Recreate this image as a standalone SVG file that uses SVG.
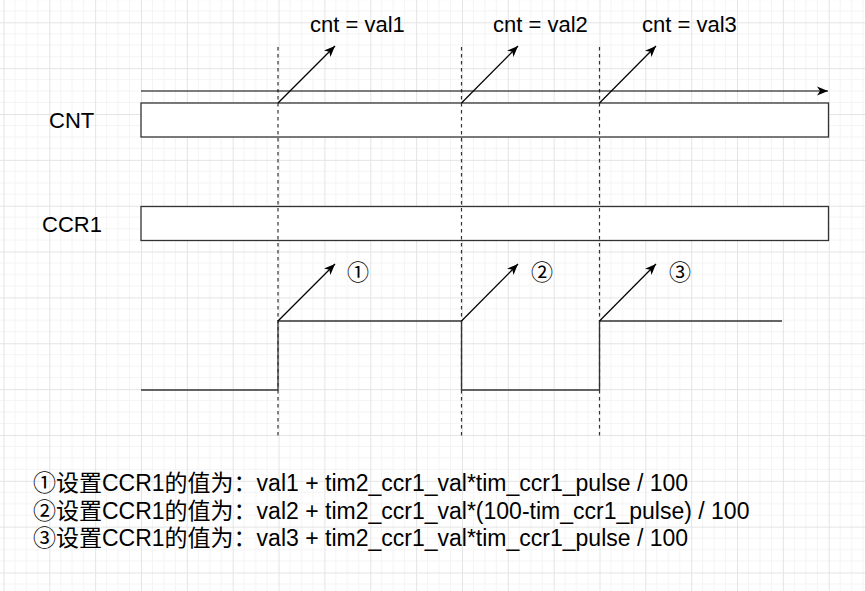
<svg xmlns="http://www.w3.org/2000/svg" width="865" height="591" viewBox="0 0 865 591">
<defs>
<pattern id="grid" patternUnits="userSpaceOnUse" x="3.45" y="22.3" width="45.85" height="45.85">
<path d="M11.46 0V45.85M22.93 0V45.85M34.39 0V45.85M0 11.46H45.85M0 22.93H45.85M0 34.39H45.85" stroke="#f4f4f4" stroke-width="1" fill="none"/>
<path d="M0.5 0V45.85M0 0.5H45.85" stroke="#e4e4e4" stroke-width="1" fill="none"/>
</pattern>
<marker id="arr" markerUnits="userSpaceOnUse" markerWidth="12" markerHeight="10" viewBox="0 0 12 10" refX="11" refY="5" orient="auto">
<path d="M0,0.5 L11,5 L0,9.5 L3,5 Z" fill="#000"/>
</marker>
</defs>
<style>
.box{fill:#fff;stroke:#333;stroke-width:1.3}
.ln{fill:none;stroke:#333;stroke-width:1.3}
.ar{fill:none;stroke:#000;stroke-width:1.2;marker-end:url(#arr)}
.dash{fill:none;stroke:#333;stroke-width:1.2;stroke-dasharray:3.5 3.5}
.t{font-family:"Liberation Sans","Noto Sans CJK SC",sans-serif;font-size:22px;fill:#000}
.n{font-family:"Liberation Sans","Noto Sans CJK SC",sans-serif;font-size:23px;fill:#000}
.c{font-family:"Noto Sans CJK SC",sans-serif;font-size:22px;fill:#000;text-anchor:middle}
</style>
<rect width="865" height="591" fill="#fff"/>
<rect width="865" height="591" fill="url(#grid)"/>

<g id="cnt-label"><text class="t" x="49" y="128">CNT</text></g>
<g id="ccr1-label"><text class="t" x="42" y="232">CCR1</text></g>
<g id="cnt-box"><rect class="box" x="141" y="103" width="687.5" height="34"/></g>
<g id="ccr1-box"><rect class="box" x="141" y="206.5" width="687.5" height="34"/></g>

<g id="labels">
<text class="t" x="310" y="32">cnt = val1</text>
<text class="t" x="493" y="32">cnt = val2</text>
<text class="t" x="642" y="32">cnt = val3</text>
<text class="c" x="358" y="280">①</text>
<text class="c" x="542" y="280">②</text>
<text class="c" x="680" y="280">③</text>
</g>

<g id="connectors">
<path class="dash" d="M278 47V437M461.5 47V437M599.5 47V437"/>
<path class="ar" d="M141 91H828"/>
<path class="ar" d="M278 103L335 46"/>
<path class="ar" d="M461.5 103L518 46"/>
<path class="ar" d="M599.5 103L656 46"/>
<path class="ln" d="M141 390H278V321H461.5V390H599.5V321H782"/>
<path class="ar" d="M278 321L335 264"/>
<path class="ar" d="M461.5 321L518 264"/>
<path class="ar" d="M599.5 321L656 264"/>
</g>

<g id="notes">
<text class="n" x="33" y="491">①设置CCR1的值为：val1 + tim2_ccr1_val*tim_ccr1_pulse / 100</text>
<text class="n" x="33" y="518.5">②设置CCR1的值为：val2 + tim2_ccr1_val*(100-tim_ccr1_pulse) / 100</text>
<text class="n" x="33" y="546">③设置CCR1的值为：val3 + tim2_ccr1_val*tim_ccr1_pulse / 100</text>
</g>
</svg>
